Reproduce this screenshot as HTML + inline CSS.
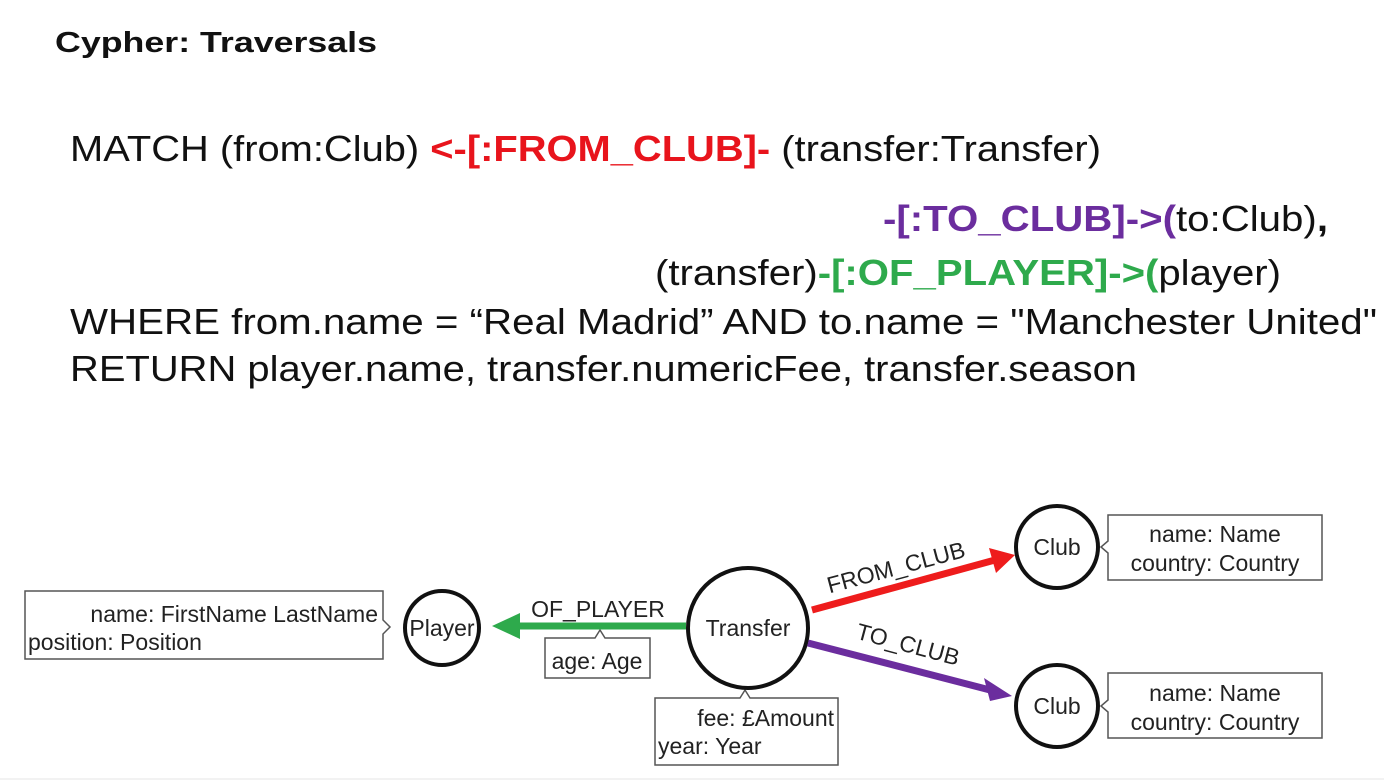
<!DOCTYPE html>
<html><head><meta charset="utf-8"><style>
html,body{margin:0;padding:0;background:#fff}
svg{display:block}
.c{font-family:"Liberation Sans",sans-serif;font-size:36px;fill:#111}
.d{font-family:"Liberation Sans",sans-serif;font-size:23px;fill:#222}
</style></head><body>
<svg width="1384" height="781" viewBox="0 0 1384 781" xmlns="http://www.w3.org/2000/svg">
<rect width="1384" height="781" fill="#fff"/>
<text x="55" y="52" font-family="Liberation Sans,sans-serif" font-size="29" font-weight="bold" fill="#111" textLength="322" lengthAdjust="spacingAndGlyphs">Cypher: Traversals</text>

<text class="c" x="70" y="161" textLength="1031" lengthAdjust="spacingAndGlyphs">MATCH (from:Club) <tspan fill="#e8141c" font-weight="bold">&lt;-[:FROM_CLUB]-</tspan> (transfer:Transfer)</text>
<text class="c" x="883" y="231" textLength="445" lengthAdjust="spacingAndGlyphs"><tspan fill="#6b2d9e" font-weight="bold">-[:TO_CLUB]-&gt;(</tspan>to:Club)<tspan font-weight="bold">,</tspan></text>
<text class="c" x="655" y="285" textLength="626" lengthAdjust="spacingAndGlyphs">(transfer)<tspan fill="#2eaa4c" font-weight="bold">-[:OF_PLAYER]-&gt;(</tspan>player)</text>
<text class="c" x="70" y="334" textLength="1307" lengthAdjust="spacingAndGlyphs">WHERE from.name = “Real Madrid”  AND to.name = "Manchester United"</text>
<text class="c" x="70" y="381" textLength="1067" lengthAdjust="spacingAndGlyphs">RETURN player.name, transfer.numericFee, transfer.season</text>

<g stroke="#555" stroke-width="1.5" fill="#fff">
<path d="M25,591 H383 V620 L390,627 L383,634 V659 H25 Z"/>
<path d="M545,638 H595 L600,630 L605,638 H650 V678 H545 Z"/>
<path d="M655,698 H740 L745,690 L750,698 H838 V765 H655 Z"/>
<path d="M1108,515 H1322 V580 H1108 V553 L1101,547 L1108,541 Z"/>
<path d="M1108,673 H1322 V738 H1108 V712 L1101,706 L1108,700 Z"/>
</g>

<g fill="#fff" stroke="#111" stroke-width="4">
<circle cx="442" cy="628" r="37"/>
<circle cx="748" cy="628" r="60"/>
<circle cx="1057" cy="547" r="41"/>
<circle cx="1057" cy="706" r="41"/>
</g>

<line x1="686" y1="626" x2="515" y2="626" stroke="#2eaa4c" stroke-width="7"/>
<polygon points="492,626 520,613 520,639" fill="#2eaa4c"/>
<line x1="812" y1="610" x2="995" y2="560" stroke="#ee1c1c" stroke-width="7"/>
<polygon points="1015,555 989,548 996,573" fill="#ee1c1c"/>
<line x1="808" y1="643" x2="990" y2="690" stroke="#6b2d9e" stroke-width="7"/>
<polygon points="1012,696 984,678 990,701" fill="#6b2d9e"/>

<text class="d" x="442" y="636" text-anchor="middle">Player</text>
<text class="d" x="748" y="636" text-anchor="middle">Transfer</text>
<text class="d" x="1057" y="555" text-anchor="middle">Club</text>
<text class="d" x="1057" y="714" text-anchor="middle">Club</text>

<text class="d" x="378" y="622" text-anchor="end">name: FirstName LastName</text>
<text class="d" x="28" y="650">position: Position</text>
<text class="d" x="597" y="669" text-anchor="middle">age: Age</text>
<text class="d" x="834" y="726" text-anchor="end">fee: £Amount</text>
<text class="d" x="658" y="754">year: Year</text>
<text class="d" x="1215" y="542" text-anchor="middle">name: Name</text>
<text class="d" x="1215" y="571" text-anchor="middle">country: Country</text>
<text class="d" x="1215" y="701" text-anchor="middle">name: Name</text>
<text class="d" x="1215" y="730" text-anchor="middle">country: Country</text>

<text class="d" x="598" y="617" text-anchor="middle">OF_PLAYER</text>
<text class="d" transform="translate(898,575) rotate(-15)" text-anchor="middle">FROM_CLUB</text>
<text class="d" transform="translate(906,652) rotate(15)" text-anchor="middle">TO_CLUB</text>

<line x1="0" y1="779" x2="1384" y2="779" stroke="#e6e6e6" stroke-width="1"/>
</svg>
</body></html>
